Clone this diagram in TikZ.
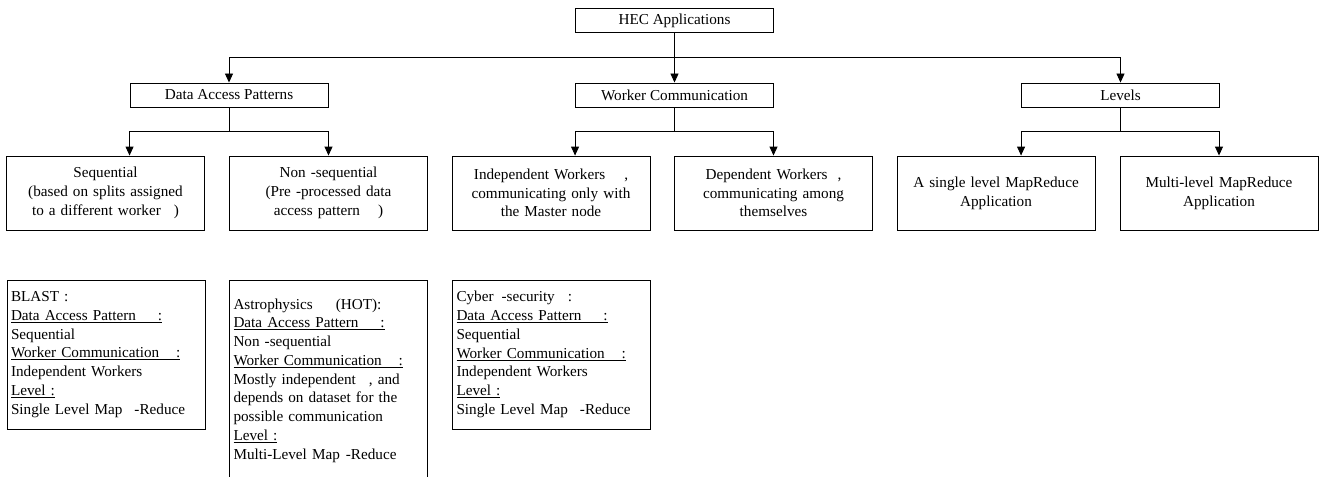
\documentclass[tikz,border=0pt]{standalone}
\usepackage{fontspec}
\setmainfont{Liberation Serif}
\usepackage{tikz}
\usetikzlibrary{arrows.meta}
\tikzset{>={Triangle[width=8pt,length=9pt]}}
\tikzset{catbox/.style = {draw,minimum width=198pt,minimum height=24pt,inner sep=0pt}}
\tikzset{subbox/.style = {draw,minimum width=198pt,minimum height=74pt,inner sep=0pt,text width=190pt,align=center}}
\tikzset{casebox/.style = {draw,minimum width=198pt,inner xsep=4pt,inner ysep=0pt,text width=190pt,align=left}}

\begin{document}
\begin{tikzpicture}[x=1pt,y=1pt,line width=0.9pt,font=\fontsize{15.2}{18.75}\selectfont]
                    \useasboundingbox (0,0) rectangle (1321,-476);
                    \clip (0,0) rectangle (1321,-476);

                    \node[catbox] (hec) at (674.5,-20.5) {HEC Applications};
                    \node[catbox] (dap) at (229,-95) {Data Access Patterns};
                    \node[catbox] (wc) at (674.5,-95) {Worker Communication};
                    \node[catbox] (lv) at (1120.5,-95) {Levels};

                    \node[subbox] (seq) at (105.5,-193) {Sequential\\(based on splits assigned\\to a different worker\hspace{13pt})};
                    \node[subbox] (nseq) at (328.5,-193) {Non -sequential\\(Pre -processed data\\access pattern\hspace{18pt})};
                    \node[subbox] (ind) at (551,-193) {Independent Workers\hspace{19pt},\\communicating only with\\the Master node};
                    \node[subbox] (dep) at (773.5,-193) {Dependent Workers\hspace{10pt},\\communicating among\\themselves};
                    \node[subbox] (sl) at (996,-193) {A single level MapReduce\\Application};
                    \node[subbox] (ml) at (1219,-193) {Multi-level MapReduce\\Application};

                    \node[casebox,minimum height=149pt] (blast) at (106,-354.5) {BLAST :\\\underline{Data Access Pattern\hspace{22pt}:}\\Sequential\\\underline{Worker Communication\hspace{17pt}:}\\Independent Workers\\\underline{Level :}\\Single Level Map\hspace{12pt}-Reduce};
                    \node[casebox,minimum height=201pt] (astro) at (328.5,-380.5) {Astrophysics\hspace{23pt}(HOT):\\\underline{Data Access Pattern\hspace{22pt}:}\\Non -sequential\\\underline{Worker Communication\hspace{17pt}:}\\Mostly independent\hspace{13pt}, and\\depends on dataset for the\\possible communication\\\underline{Level :}\\Multi-Level Map\hspace{6pt}-Reduce};
                    \node[casebox,minimum height=149pt] (cyber) at (551.5,-354.5) {Cyber\hspace{8pt}-security\hspace{13pt}:\\\underline{Data Access Pattern\hspace{22pt}:}\\Sequential\\\underline{Worker Communication\hspace{17pt}:}\\Independent Workers\\\underline{Level :}\\Single Level Map\hspace{12pt}-Reduce};

                    \coordinate (top) at (674.5,-57.5);
                    \coordinate (dapj) at (229,-131);
                    \coordinate (wcj) at (674.5,-131);
                    \coordinate (lvj) at (1120.5,-131);

                    \draw[->] (hec) -- (wc);
                    \draw[->] (top) -| (dap);
                    \draw[->] (top) -| (lv);

                    \draw (dap) -- (dapj);
                    \draw[->] (dapj) -| (dap.west |- seq.north);
                    \draw[->] (dapj) -| (nseq);
                    \draw (wc) -- (wcj);
                    \draw[->] (wcj) -| (wc.west |- ind.north);
                    \draw[->] (wcj) -| (dep);
                    \draw (lv) -- (lvj);
                    \draw[->] (lvj) -| (lv.west |- sl.north);
                    \draw[->] (lvj) -| (ml);
                \end{tikzpicture}
\end{document}
